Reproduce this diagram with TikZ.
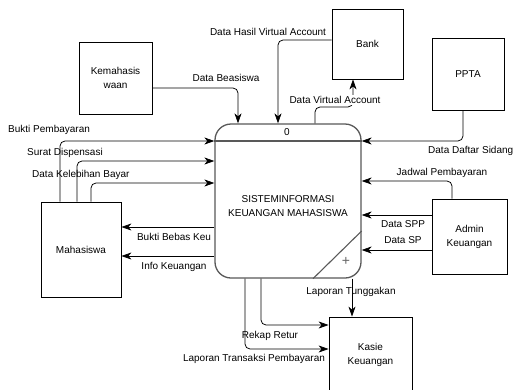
\documentclass[tikz,border=0pt]{standalone}
\usepackage{fontspec}
\setmainfont{Liberation Sans}
\usetikzlibrary{arrows.meta}

\begin{document}
\begin{tikzpicture}[x=1pt,y=-1pt,
  every node/.style={font=\fontsize{10}{14}\selectfont},
  entity/.style={draw, line width=0.8pt, inner sep=0pt, align=center},
  procbox/.style={draw=black!65, line width=1.3pt, rounded corners=16pt,
                  minimum width=146pt, minimum height=154pt, inner sep=0pt},
  procline/.style={draw=black!65, line width=1.1pt},
  flow/.style={draw, line width=0.75pt, rounded corners=5pt,
               -{Stealth[length=10pt,width=7pt,inset=3pt]}},
  lbl/.style={inner sep=1pt, align=center},
  mask/.style={lbl, fill=white}]

  \fill[white] (0,0) rectangle (514,389);
  \useasboundingbox (0,0) rectangle (514,389);

  % process 0
  \node[procbox] (proc) at (288,201) {};
  \draw[procline] (proc.west |- 0,141) -- (proc.east |- 0,141);
  \draw[procline] (proc.east |- 0,231) -- (313,0 |- proc.south);
  \node[lbl] (pnum) at (287,132) {0};
  \node[lbl] (pname) at (288,206) {SISTEMINFORMASI\\KEUANGAN MAHASISWA};
  \node[lbl, text=black!60, font=\fontsize{14}{14}\selectfont] (pplus) at (346,261) {+};

  % external entities
  \node[entity, minimum width=73pt, minimum height=72pt] (kem) at (115.5,78) {Kemahasis\\waan};
  \node[entity, minimum width=71pt, minimum height=70pt] (bank) at (367.5,44) {Bank};
  \node[entity, minimum width=72pt, minimum height=72pt] (ppta) at (468,74) {PPTA};
  \node[entity, minimum width=80pt, minimum height=95pt] (mhs) at (81,249.5) {Mahasiswa};
  \node[entity, minimum width=75pt, minimum height=75pt] (admin) at (469.5,236.5) {Admin\\Keuangan};
  \node[entity, minimum width=83pt, minimum height=76pt] (kasie) at (370.5,355) {Kasie\\Keuangan};

  % Bank
  \draw[flow] (bank.west |- 0,40) -| (278,0 |- proc.north);
  \node[lbl] (l1) at (268,32) {Data Hasil Virtual Account};
  \draw[flow] (315,0 |- proc.north) |- (353,107) -- (353,0 |- bank.south);
  \node[mask] (l2) at (335,100) {Data Virtual Account};

  % Kemahasiswaan
  \draw[flow] (kem.east |- 0,88) -| (238,0 |- proc.north);
  \node[lbl] (l3) at (226,78) {Data Beasiswa};

  % PPTA
  \draw[flow] (463,0 |- ppta.south) |- (proc.east |- 0,141);
  \node[lbl, anchor=west] (l4) at (427,151) {Data Daftar Sidang};

  % Admin Keuangan
  \draw[flow] (452,0 |- admin.north) |- (proc.east |- 0,181);
  \node[lbl] (l5) at (442,173) {Jadwal Pembayaran};
  \draw[flow] (admin.west |- 0,215) -- (proc.east |- 0,215);
  \draw[flow] (admin.west |- 0,250) -- (proc.east |- 0,250);
  \node[lbl, font=\fontsize{10}{15.5}\selectfont] (l6) at (403,232) {Data SPP\\Data SP};

  % Mahasiswa
  \draw[flow] (60,0 |- mhs.north) |- (proc.west |- 0,141);
  \node[lbl, anchor=west] (l7) at (7,130) {Bukti Pembayaran};
  \draw[flow] (77,0 |- mhs.north) |- (proc.west |- 0,161);
  \node[lbl, anchor=west] (l8) at (26,153) {Surat Dispensasi};
  \draw[flow] (91,0 |- mhs.north) |- (proc.west |- 0,183);
  \node[lbl, anchor=west] (l9) at (31,175) {Data Kelebihan Bayar};
  \draw[flow] (proc.west |- 0,227) -- (mhs.east |- 0,227);
  \node[lbl] (l10) at (174,237) {Bukti Bebas Keu};
  \draw[flow] (proc.west |- 0,256) -- (mhs.east |- 0,256);
  \node[lbl] (l11) at (174,267) {Info Keuangan};

  % Kasie Keuangan
  \draw[flow] (352,0 |- proc.south) -- (352,0 |- kasie.north);
  \node[lbl] (l12) at (351,292) {Laporan Tunggakan};
  \draw[flow] (261,0 |- proc.south) |- (kasie.west |- 0,325);
  \node[lbl] (l13) at (270,336) {Rekap Retur};
  \draw[flow] (245,0 |- proc.south) |- (kasie.west |- 0,349);
  \node[lbl] (l14) at (254,359) {Laporan Transaksi Pembayaran};
\end{tikzpicture}
\end{document}
